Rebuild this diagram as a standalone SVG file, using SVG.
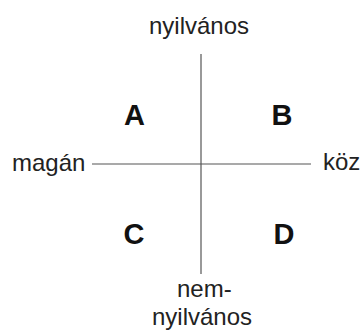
<svg xmlns="http://www.w3.org/2000/svg" width="363" height="331" viewBox="0 0 363 331">
<style>
.lbl{font-family:"Liberation Sans",Arial,sans-serif;font-size:24px;fill:#222}
.q{font-family:"Liberation Sans",Arial,sans-serif;font-size:29px;font-weight:bold;fill:#111;text-anchor:middle}
.ax{stroke:#555;stroke-width:1.2;fill:none}
</style>
<rect width="363" height="331" fill="#fff"/>
<g id="connectors">
<line class="ax" x1="201" y1="54" x2="201" y2="274"/>
<line class="ax" x1="92" y1="164" x2="311" y2="164"/>
</g>
<g id="top"><text class="lbl" x="149" y="34">nyilvános</text></g>
<g id="left"><text class="lbl" x="12" y="171">magán</text></g>
<g id="right"><text class="lbl" x="323" y="170">köz</text></g>
<g id="bottom"><text class="lbl" x="177" y="297">nem-</text><text class="lbl" x="152" y="325">nyilvános</text></g>
<g id="A"><text class="q" x="134.5" y="125">A</text></g>
<g id="B"><text class="q" x="282" y="125">B</text></g>
<g id="C"><text class="q" x="134" y="244">C</text></g>
<g id="D"><text class="q" x="284" y="244">D</text></g>
</svg>
